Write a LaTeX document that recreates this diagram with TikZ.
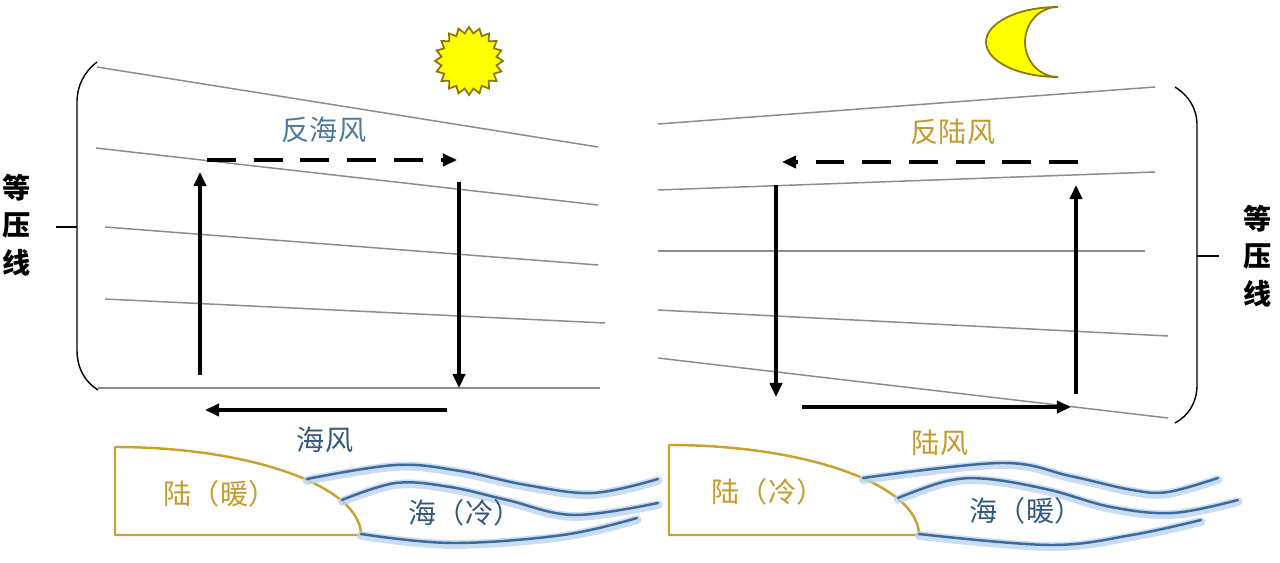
\documentclass[tikz,border=0pt]{standalone}
\usepackage{fontspec}
\usepackage{tikz}
\usetikzlibrary{arrows.meta, shapes.geometric}
\newfontfamily\cjk{Noto Sans CJK SC}

\definecolor{isogray}{HTML}{8C8C8C}
\definecolor{landgold}{HTML}{C9A12F}
\definecolor{goldtext}{HTML}{C39A2C}
\definecolor{seablue}{HTML}{3D6A9C}
\definecolor{seaglow}{HTML}{BCD3EC}
\definecolor{labelblue}{HTML}{34597C}
\definecolor{upblue}{HTML}{4E7A9C}
\definecolor{sunyellow}{HTML}{FFFF00}
\definecolor{sunedge}{HTML}{8C7800}

\tikzset{
  isobar/.style={isogray, line width=0.85pt},
  wind/.style={-{Triangle[length=8pt,width=7pt]}, line width=1.8pt},
  upperwind/.style={wind, dash pattern=on 16.4pt off 10.2pt},
  brace/.style={line width=0.8pt},
  land/.style={landgold, line width=1.4pt, line join=round},
  glow/.style={seaglow, line width=5pt, line cap=round, opacity=0.8},
  wave/.style={seablue, line width=1.4pt, line cap=round},
  lbl/.style={font=\cjk\fontsize{16}{16}\selectfont},
  vlbl/.style={font=\cjk\bfseries\fontsize{16}{21.5}\selectfont, align=center},
  glowing/.style={fill=sunyellow, draw=sunedge, line width=1pt},
}

\begin{document}
\begin{tikzpicture}[x=0.02cm, y=-0.02cm]
    \useasboundingbox (0,0) rectangle (1280,563);
    % Left side: daytime, sea breeze
    \draw[isobar] (97,67) -- (598,147);
    \draw[isobar] (96,148) -- (598,205);
    \draw[isobar] (105,227) -- (598,265);
    \draw[isobar] (105,299) -- (605,323);
    \draw[isobar] (98,388) -- (600,388);
    \draw[brace] (97,62) .. controls (84,72) and (77,86) .. (77,102) -- (77,350)
        .. controls (77,368) and (85,382) .. (98,390);
    \draw[brace] (56,227) -- (77,227);
    \node[vlbl] (isoL) at (17,225) {等\\压\\线};
    % circulation
    \draw[wind] (200,375) -- (200,172);
    \draw[upperwind] (207,160) -- (457,160);
    \draw[wind] (459,182) -- (459,388);
    \draw[wind] (447,410) -- (205,410);
    \node[lbl, text=upblue] (antiSea) at (324,130) {反海风};
    \node[lbl, text=labelblue] (seaWind) at (325,440) {海风};
    % sun
    \node[star, star points=20, star point ratio=1.22, minimum size=1.36cm,
          inner sep=0pt, glowing] (sun) at (469,61) {};
    % land and sea
    \draw[land] (115,535) -- (115,447)
        arc[start angle=-90, end angle=0, x radius=246, y radius=88] -- cycle;
    \node[lbl, text=goldtext] (landL) at (220,494) {陆（暖）};
    \foreach \pts in {{(307,479) (396,465) (460,471) (526,485) (593,493) (658,479)},
                      {(342,500) (396,483) (450,487) (507,500) (574,515) (658,503)},
                      {(361,534) (452,543) (563,535) (637,518)}} {
        \draw[glow, yshift=-0.03cm] plot[smooth, tension=0.6] coordinates {\pts};
        \draw[wave] plot[smooth, tension=0.6] coordinates {\pts};
    }
    \node[lbl, text=labelblue] (seaL) at (465,513) {海（冷）};

    % Right side: night, land breeze
    \draw[isobar] (658,124) -- (1155,87);
    \draw[isobar] (658,190) -- (1155,172);
    \draw[isobar] (658,251) -- (1145,251);
    \draw[isobar] (658,310) -- (1168,336);
    \draw[isobar] (658,358) -- (1168,418);
    \draw[brace] (1175,87) .. controls (1188,95) and (1197,108) .. (1197,125) -- (1197,385)
        .. controls (1197,403) and (1188,416) .. (1175,423);
    \draw[brace] (1197,256) -- (1219,256);
    \node[vlbl] (isoR) at (1258,256) {等\\压\\线};
    % circulation
    \draw[wind] (776,185) -- (776,397);
    \draw[upperwind] (1078,162) -- (782,162);
    \draw[wind] (1076,394) -- (1076,185);
    \draw[wind] (802,407) -- (1071,407);
    \node[lbl, text=goldtext] (antiLand) at (953,132) {反陆风};
    \node[lbl, text=goldtext] (landWind) at (940,443) {陆风};
    % moon
    \draw[glowing] (1058,7) arc[start angle=-90, end angle=-270, x radius=72, y radius=35]
        arc[start angle=90, end angle=270, x radius=33, y radius=35] -- cycle;
    % land and sea
    \draw[land] (669,535) -- (669,445)
        arc[start angle=-90, end angle=0, x radius=250, y radius=90] -- cycle;
    \node[lbl, text=goldtext] (landR) at (768,492) {陆（冷）};
    \foreach \pts in {{(863,478) (1001,463) (1070,476) (1132,490) (1168,492) (1218,478)},
                      {(898,498) (947,481) (988,479) (1050,490) (1111,507) (1173,513) (1238,500)},
                      {(919,534) (1050,545) (1132,535) (1201,520)}} {
        \draw[glow, yshift=-0.03cm] plot[smooth, tension=0.6] coordinates {\pts};
        \draw[wave] plot[smooth, tension=0.6] coordinates {\pts};
    }
    \node[lbl, text=labelblue] (seaR) at (1026,511) {海（暖）};
\end{tikzpicture}
\end{document}
